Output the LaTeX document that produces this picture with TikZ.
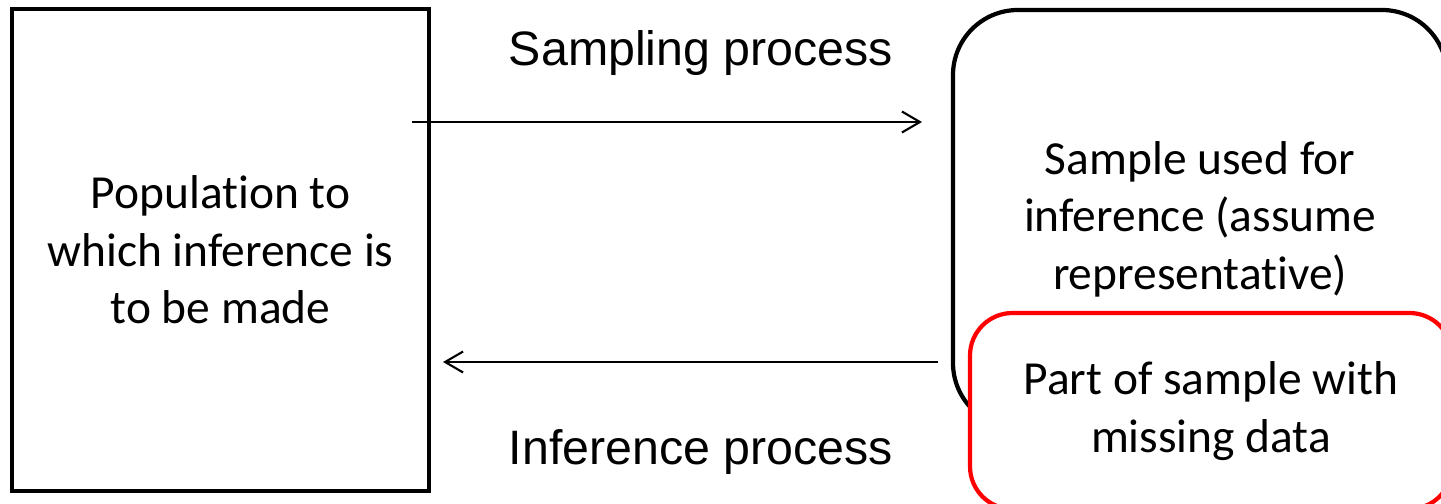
\documentclass[tikz,border=0pt]{standalone}
\usepackage{fontspec}
\setmainfont{Carlito}[Ligatures=NoCommon]
\newfontfamily\arialfont{Liberation Sans}
\usetikzlibrary{arrows.meta}

\begin{document}
\begin{tikzpicture}[
    box/.style={draw,line width=2.4pt,align=center,font=\fontsize{27}{32.7}\selectfont},
    flow/.style={-{Straight Barb[length=3.6mm,width=4.2mm]},line width=1.2pt},
    lab/.style={font=\arialfont\fontsize{27.5}{33}\selectfont}]
    \clip (0,0) rectangle (28.82,-10.08);

    \node[box,minimum width=8.34cm,minimum height=9.64cm] (pop) at (4.41,-5.0) {Population to\\which inference is\\to be made};
    \node[box,rounded corners=1.3cm,minimum width=9.88cm,minimum height=8.36cm] (smp) at (24.0,-4.38) {Sample used for\\inference (assume\\representative)};
    \node[box,draw=red,fill=white,rounded corners=0.85cm,minimum width=9.64cm,minimum height=3.92cm] (miss) at (24.22,-8.22) {Part of sample with\\missing data};

    \node[lab] (samplab) at (14.02,-1.06) {Sampling process};
    \node[lab] (inflab) at (14.02,-9.04) {Inference process};

    \coordinate (s1) at (8.24,-2.44);
    \coordinate (s2) at (18.44,-2.44);
    \coordinate (i1) at (18.76,-7.24);
    \coordinate (i2) at (8.86,-7.24);

    \draw[flow] (s1) -- (s2);
    \draw[flow] (i1) -- (i2);
\end{tikzpicture}
\end{document}
